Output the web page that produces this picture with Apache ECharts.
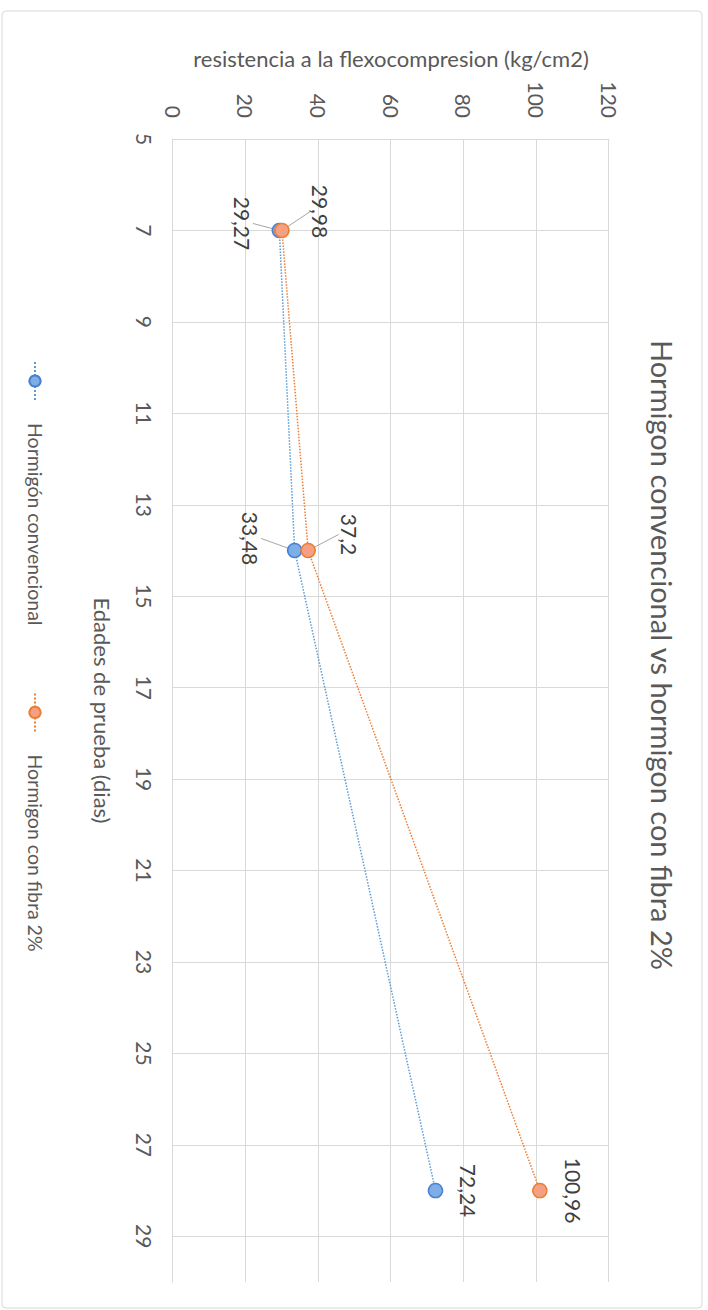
<!DOCTYPE html>
<html>
<head>
<meta charset="utf-8">
<script src="https://cdn.jsdelivr.net/npm/echarts@6/dist/echarts.min.js"></script>
<style>
  html, body { margin: 0; padding: 0; background: #ffffff; overflow: hidden; }
  /* The chart is laid out landscape and turned a quarter turn clockwise on the page */
  #chart {
    position: absolute; left: 0; top: 0;
    width: 1310px; height: 708px;
    transform-origin: 0 0;
    transform: translateX(708px) rotate(90deg);
  }
</style>
</head>
<body>
<div id="chart"></div>
<script>
// Test ages (days) and flexural-compression strength (kg/cm2)
const dias = [7, 14, 28];
const convencional = [29.27, 33.48, 72.24];
const conFibra = [29.98, 37.2, 100.96];
const seriesNames = ['Hormigón convencional', 'Hormigon con fibra 2%'];
const titulo = 'Hormigon convencional vs hormigon con fibra 2%';
const ejeX = 'Edades de prueba (dias)';
const ejeY = 'resistencia a la flexocompresion (kg/cm2)';

// Where each data label's centre sits relative to its marker, and whether it gets a leader line
const labelOffsets = [
  [[-7, 37], [-12, 44], [0, -33]],
  [[-19, -39], [-16, -41], [0, -34]]
];
const leaders = [
  [true, true, false],
  [true, true, false]
];

const FONT = 'Lato, "Open Sans", sans-serif';
const GRID_COLOR = '#d9d9d9';
const TEXT_COLOR = '#595959';

function fmt(v) { return String(v).replace('.', ','); }

function buildData(values, s) {
  return dias.map((d, i) => ({
    value: [d, values[i]],
    labelLine: { show: leaders[s][i] }
  }));
}

const styles = [
  { line: '#5b9bd5', fill: '#7eaee6', border: '#4a7fd4' },
  { line: '#ed7d31', fill: '#f5a083', border: '#ed7d31' }
];

function makeSeries(values, s) {
  return {
    name: seriesNames[s],
    type: 'line',
    data: buildData(values, s),
    symbol: 'circle',
    symbolSize: 14,
    lineStyle: { color: styles[s].line, width: 1.5, type: 'dotted' },
    itemStyle: { color: styles[s].fill, borderColor: styles[s].border, borderWidth: 1.5 },
    label: {
      show: true,
      position: 'inside',
      formatter: p => fmt(p.value[1]),
      fontFamily: FONT,
      fontSize: 21,
      color: '#404040'
    },
    labelLine: { show: true, lineStyle: { color: '#a6a6a6', width: 1 } },
    labelLayout: function (p) {
      const off = labelOffsets[p.seriesIndex][p.dataIndex];
      const cx = p.rect.x + p.rect.width / 2;
      const cy = p.rect.y + p.rect.height / 2;
      return {
        x: cx + off[0] - p.labelRect.width / 2,
        y: cy + off[1] - p.labelRect.height / 2
      };
    },
    emphasis: { disabled: true },
    z: 2 + s
  };
}

const chart = echarts.init(document.getElementById('chart'), null, { renderer: 'svg' });
chart.setOption({
  animation: false,
  backgroundColor: '#ffffff',
  textStyle: { fontFamily: FONT },
  graphic: [{
    type: 'rect',
    shape: { x: 11, y: 6, width: 1297, height: 700, r: 4 },
    style: { fill: 'none', stroke: GRID_COLOR, lineWidth: 1 },
    silent: true,
    z: -1
  }],
  title: {
    text: titulo,
    left: 'center',
    top: 31,
    padding: 0,
    textStyle: { fontFamily: FONT, fontSize: 29, fontWeight: 'normal', color: TEXT_COLOR }
  },
  legend: {
    left: 361,
    top: 663,
    padding: 0,
    itemWidth: 38,
    itemHeight: 14,
    itemGap: 67,
    textStyle: { fontFamily: FONT, fontSize: 19.5, color: TEXT_COLOR, padding: [0, 0, 0, 18] },
    data: seriesNames
  },
  grid: { left: 139, top: 99, width: 1143, height: 436, containLabel: false },
  xAxis: {
    type: 'value',
    min: 5, max: 30, interval: 2,
    name: ejeX,
    nameLocation: 'middle',
    nameGap: 60,
    nameTextStyle: { fontFamily: FONT, fontSize: 22, color: TEXT_COLOR },
    axisLine: { show: true, lineStyle: { color: GRID_COLOR } },
    axisTick: { show: false },
    axisLabel: { fontFamily: FONT, fontSize: 21, color: TEXT_COLOR, margin: 18, showMaxLabel: false },
    splitLine: { show: true, showMaxLine: false, lineStyle: { color: GRID_COLOR } }
  },
  yAxis: {
    type: 'value',
    min: 0, max: 120, interval: 20,
    name: ejeY,
    nameLocation: 'middle',
    nameGap: 70,
    nameTextStyle: { fontFamily: FONT, fontSize: 22, color: TEXT_COLOR },
    axisLine: { show: true, lineStyle: { color: GRID_COLOR } },
    axisTick: { show: false },
    axisLabel: { fontFamily: FONT, fontSize: 21, color: TEXT_COLOR, margin: 21 },
    splitLine: { show: true, lineStyle: { color: GRID_COLOR } }
  },
  series: [makeSeries(convencional, 0), makeSeries(conFibra, 1)]
});
</script>
</body>
</html>
